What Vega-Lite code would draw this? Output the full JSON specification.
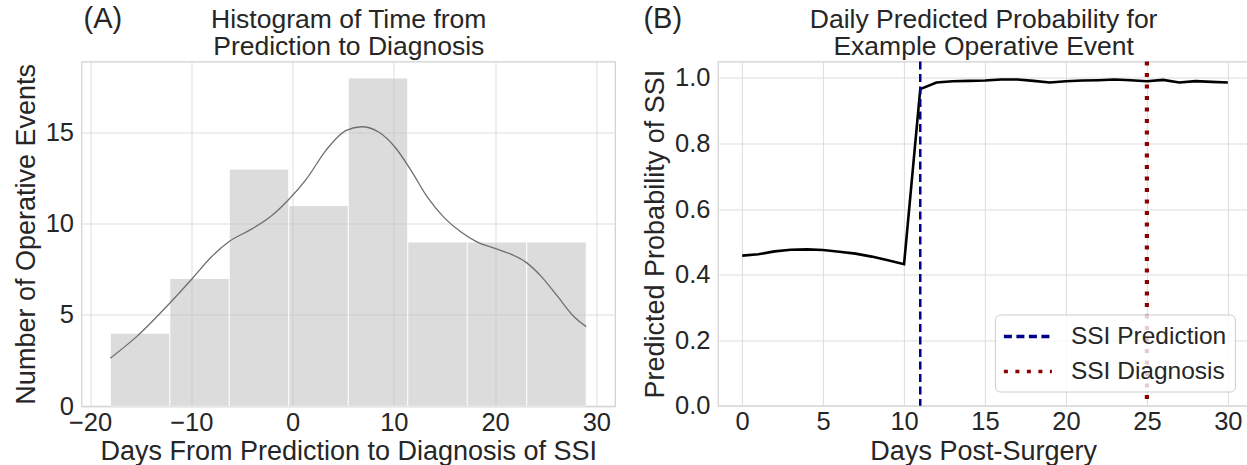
{
  "$schema": "https://vega.github.io/schema/vega-lite/v6.json",
  "background": "white",
  "padding": {"left": 11.5, "top": 3.5, "right": 0, "bottom": 0},
  "spacing": 102.4,
  "bounds": "flush",
  "resolve": {"legend": {"color": "independent", "strokeDash": "independent"}},
  "datasets": {
    "bins": [
      {"bin_start": -18, "bin_end": -12.125, "count": 4},
      {"bin_start": -12.125, "bin_end": -6.25, "count": 7},
      {"bin_start": -6.25, "bin_end": -0.375, "count": 13},
      {"bin_start": -0.375, "bin_end": 5.5, "count": 11},
      {"bin_start": 5.5, "bin_end": 11.375, "count": 18},
      {"bin_start": 11.375, "bin_end": 17.25, "count": 9},
      {"bin_start": 17.25, "bin_end": 23.125, "count": 9},
      {"bin_start": 23.125, "bin_end": 29, "count": 9}
    ],
    "kde": [
      {"kx": -18.0, "ky": 2.63}, {"kx": -15.4, "ky": 3.81}, {"kx": -12.2, "ky": 5.6},
      {"kx": -9.9, "ky": 7.0}, {"kx": -8.0, "ky": 8.19}, {"kx": -6.3, "ky": 9.01},
      {"kx": -4.1, "ky": 9.69}, {"kx": -2.2, "ky": 10.38}, {"kx": -0.45, "ky": 11.29},
      {"kx": 1.4, "ky": 12.48}, {"kx": 3.3, "ky": 14.03}, {"kx": 5.3, "ky": 15.12},
      {"kx": 6.8, "ky": 15.32}, {"kx": 8.5, "ky": 15.03}, {"kx": 10.1, "ky": 14.21},
      {"kx": 11.7, "ky": 12.93}, {"kx": 13.3, "ky": 11.47}, {"kx": 14.9, "ky": 10.38},
      {"kx": 16.6, "ky": 9.56}, {"kx": 18.2, "ky": 9.01}, {"kx": 20.0, "ky": 8.65},
      {"kx": 21.4, "ky": 8.37}, {"kx": 23.0, "ky": 7.91}, {"kx": 24.6, "ky": 7.09},
      {"kx": 26.2, "ky": 6.0}, {"kx": 27.8, "ky": 4.9}, {"kx": 29.0, "ky": 4.36}
    ],
    "prob": [
      {"day": 0, "prob": 0.458}, {"day": 1, "prob": 0.462}, {"day": 2, "prob": 0.471},
      {"day": 3, "prob": 0.476}, {"day": 4, "prob": 0.477}, {"day": 5, "prob": 0.475},
      {"day": 6, "prob": 0.470}, {"day": 7, "prob": 0.464}, {"day": 8, "prob": 0.455},
      {"day": 9, "prob": 0.444}, {"day": 10, "prob": 0.432}, {"day": 11, "prob": 0.966},
      {"day": 12, "prob": 0.986}, {"day": 13, "prob": 0.990}, {"day": 14, "prob": 0.991},
      {"day": 15, "prob": 0.992}, {"day": 16, "prob": 0.995}, {"day": 17, "prob": 0.995},
      {"day": 18, "prob": 0.991}, {"day": 19, "prob": 0.986}, {"day": 20, "prob": 0.990},
      {"day": 21, "prob": 0.992}, {"day": 22, "prob": 0.993}, {"day": 23, "prob": 0.995},
      {"day": 24, "prob": 0.993}, {"day": 25, "prob": 0.990}, {"day": 26, "prob": 0.994},
      {"day": 27, "prob": 0.986}, {"day": 28, "prob": 0.990}, {"day": 29, "prob": 0.988},
      {"day": 30, "prob": 0.986}
    ],
    "events": [
      {"day": 11, "event": "SSI Prediction"},
      {"day": 25, "event": "SSI Diagnosis"}
    ]
  },
  "hconcat": [
    {
      "width": 533.5,
      "height": 344.6,
      "title": {"text": "(A)", "anchor": "start", "frame": "group", "dx": 2, "dy": 31},
      "resolve": {"axis": {"x": "independent"}},
      "layer": [
        {
          "data": {"name": "bins"},
          "mark": {"type": "bar", "orient": "vertical", "color": "#c0c0c0", "opacity": 0.55, "stroke": "white", "strokeWidth": 1, "strokeOpacity": 1},
          "encoding": {
            "x": {"field": "bin_start", "type": "quantitative",
                  "scale": {"domain": [-20.35, 31.35], "nice": false, "zero": false},
                  "axis": {"orient": "bottom", "title": "Days From Prediction to Diagnosis of SSI", "values": [-20, -10, 0, 10, 20, 30]}},
            "x2": {"field": "bin_end"},
            "y": {"field": "count", "type": "quantitative",
                  "scale": {"domain": [0, 18.9], "nice": false},
                  "axis": {"title": "Number of Operative Events", "values": [0, 5, 10, 15]}},
            "y2": {"datum": 0}
          }
        },
        {
          "data": {"name": "kde"},
          "mark": {"type": "line", "color": "#6e6e6e", "strokeWidth": 1.3, "interpolate": "monotone"},
          "encoding": {
            "x": {"field": "kx", "type": "quantitative",
                  "scale": {"domain": [-20.35, 31.35], "nice": false, "zero": false},
                  "axis": {"orient": "top", "title": ["Histogram of Time from", "Prediction to Diagnosis"],
                           "labels": false, "ticks": false, "domain": false, "grid": false,
                           "titlePadding": 1, "titleFontSize": 26.5, "titleLineHeight": 27}},
            "y": {"field": "ky", "type": "quantitative",
                  "scale": {"domain": [0, 18.9], "nice": false},
                  "axis": {"title": "Number of Operative Events", "values": [0, 5, 10, 15]}}
          }
        }
      ]
    },
    {
      "width": 530.5,
      "height": 344.3,
      "title": {"text": "(B)", "anchor": "start", "frame": "bounds", "dx": 2, "dy": 31},
      "resolve": {"axis": {"x": "independent"}},
      "layer": [
        {
          "data": {"name": "prob"},
          "mark": {"type": "line", "color": "black", "strokeWidth": 2.6},
          "encoding": {
            "x": {"field": "day", "type": "quantitative",
                  "scale": {"domain": [-1.5, 31.27], "nice": false, "zero": false},
                  "axis": {"orient": "bottom", "title": "Days Post-Surgery", "values": [0, 5, 10, 15, 20, 25, 30]}},
            "y": {"field": "prob", "type": "quantitative",
                  "scale": {"domain": [0, 1.05], "nice": false},
                  "axis": {"title": "Predicted Probability of SSI", "values": [0, 0.2, 0.4, 0.6, 0.8, 1.0], "format": ".1f"}}
          }
        },
        {
          "data": {"name": "events"},
          "transform": [{"filter": "datum.event === 'SSI Prediction'"}],
          "mark": {"type": "rule", "strokeWidth": 2.5},
          "encoding": {
            "x": {"field": "day", "type": "quantitative",
                  "axis": {"orient": "top", "title": ["Daily Predicted Probability for", "Example Operative Event"],
                           "labels": false, "ticks": false, "domain": false, "grid": false,
                           "titlePadding": 1, "titleFontSize": 26.5, "titleLineHeight": 27}},
            "color": {"field": "event", "type": "nominal",
                      "scale": {"domain": ["SSI Prediction", "SSI Diagnosis"], "range": ["#00008B", "#8B0000"]},
                      "legend": {"title": null, "orient": "bottom-right", "offset": 14,
                                 "symbolType": "M-2,0H2", "symbolSize": 576, "symbolOffset": 11,
                                 "symbolStrokeWidth": 3.5, "labelOffset": 29, "padding": 8, "rowPadding": 9,
                                 "strokeColor": "#cccccc", "cornerRadius": 5, "fillColor": "rgba(255,255,255,0.8)",
                                 "labelFontSize": 24.5}},
            "strokeDash": {"field": "event", "type": "nominal",
                           "scale": {"domain": ["SSI Prediction", "SSI Diagnosis"], "range": [[8, 4.5], [4, 7.5]]},
                           "legend": {"title": null}}
          }
        },
        {
          "data": {"name": "events"},
          "transform": [{"filter": "datum.event === 'SSI Diagnosis'"}],
          "mark": {"type": "rule", "strokeWidth": 4.2},
          "encoding": {
            "x": {"field": "day", "type": "quantitative", "axis": null},
            "color": {"field": "event", "type": "nominal",
                      "scale": {"domain": ["SSI Prediction", "SSI Diagnosis"], "range": ["#00008B", "#8B0000"]},
                      "legend": {"title": null}},
            "strokeDash": {"field": "event", "type": "nominal",
                           "scale": {"domain": ["SSI Prediction", "SSI Diagnosis"], "range": [[8, 4.5], [4, 7.5]]},
                           "legend": {"title": null}}
          }
        }
      ]
    }
  ],
  "config": {
    "font": "Liberation Sans",
    "view": {"stroke": "#d0d0d0", "strokeWidth": 1.2},
    "title": {"font": "Liberation Sans", "fontSize": 29, "fontWeight": "normal", "color": "#262626", "offset": 0},
    "axis": {
      "labelFont": "Liberation Sans", "titleFont": "Liberation Sans",
      "labelFontSize": 25.5, "titleFontSize": 27, "titleFontWeight": "normal",
      "labelColor": "#262626", "titleColor": "#262626",
      "gridColor": "#dddddd", "gridWidth": 1,
      "domain": false, "ticks": false,
      "labelPadding": 8, "titlePadding": 5
    },
    "axisX": {"labelPadding": 4, "titlePadding": 3},
    "legend": {"labelFont": "Liberation Sans", "labelColor": "#262626", "labelFontSize": 24.5}
  }
}
